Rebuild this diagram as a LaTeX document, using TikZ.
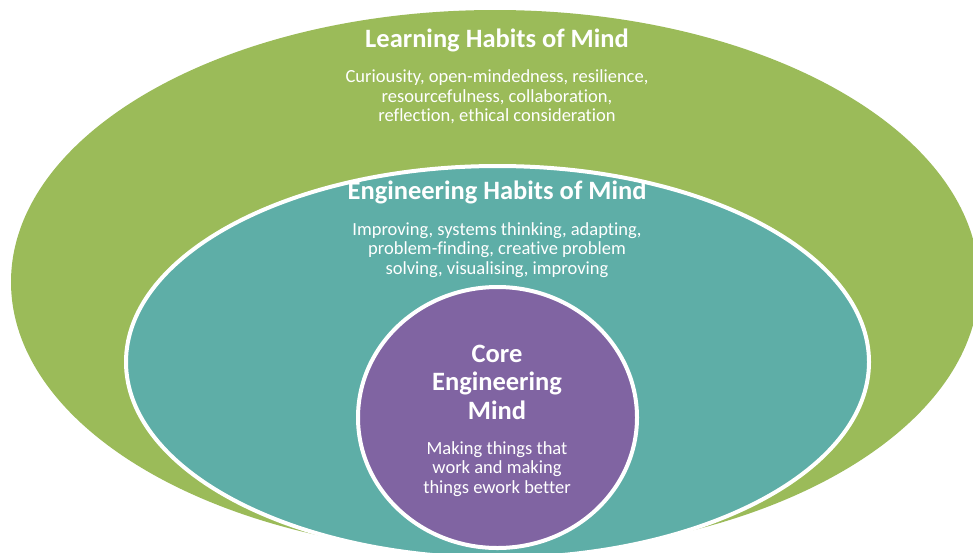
\documentclass[tikz,border=0pt]{standalone}
\usepackage{fontspec}
\setmainfont{Carlito}[Ligatures=NoCommon]
\definecolor{learngreen}{HTML}{9BBB59}
\definecolor{engteal}{HTML}{5EAEA7}
\definecolor{corepurple}{HTML}{8064A2}
\tikzset{
  title/.style={text=white, font=\fontsize{26.5}{28.5}\selectfont\bfseries, align=center, inner sep=0pt},
  habits/.style={text=white, font=\fontsize{18.5}{19.5}\selectfont, align=center, inner sep=0pt},
  ring/.style={draw=white, line width=4pt}
}
\begin{document}
\begin{tikzpicture}[x=1pt, y=-1pt]
 \useasboundingbox (0,0) rectangle (973,552);
 \clip (0,0) rectangle (973,552);

 % nested ellipses
 \fill[learngreen] (495,282) ellipse [x radius=484, y radius=272];
 \filldraw[fill=engteal, ring] (497.5,362) ellipse [x radius=371.5, y radius=196];
 \filldraw[fill=corepurple, ring] (497.5,417.5) ellipse [x radius=139.5, y radius=130.5];

 % texts
 \node[title, anchor=base] (learn) at (497,47) {Learning Habits of Mind};
 \node[habits] (learnlist) at (497,97) {Curiousity, open-mindedness, resilience,\\resourcefulness, collaboration,\\reflection, ethical consideration};

 \node[title, anchor=base] (eng) at (497,199) {Engineering Habits of Mind};
 \node[habits] (englist) at (497,250) {Improving, systems thinking, adapting,\\problem-finding, creative problem\\solving, visualising, improving};

 \node[title] (core) at (497,382) {Core\\Engineering\\Mind};
 \node[habits] (corelist) at (497,469) {Making things that\\work and making\\things ework better};
\end{tikzpicture}
\end{document}
